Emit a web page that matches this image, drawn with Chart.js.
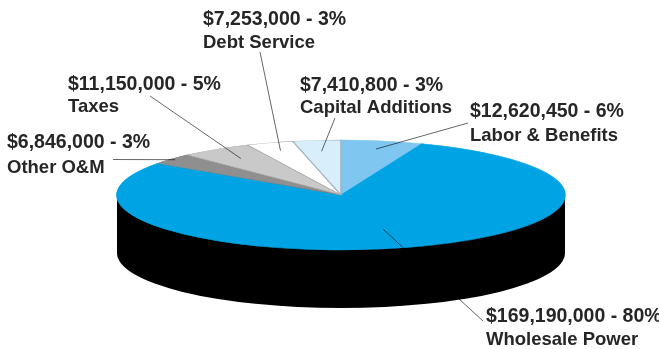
<!DOCTYPE html>
<html>
<head>
<meta charset="utf-8">
<title>Budget</title>
<script src="https://cdn.jsdelivr.net/npm/chart.js@4"></script>
<style>
  html, body { margin: 0; padding: 0; background: #fff; }
  #wrap { width: 659px; height: 349px; }
</style>
</head>
<body>
<div id="wrap"><canvas id="myChart"></canvas></div>
<script>
const categories = ['Labor & Benefits', 'Wholesale Power', 'Other O&M', 'Taxes', 'Debt Service', 'Capital Additions'];
const amounts = [12620450, 169190000, 6846000, 11150000, 7253000, 7410800];
const percents = [6, 80, 3, 5, 3, 3];

const sliceColors = ['#7fc6f1', '#00a4e4', '#8f8f8f', '#c9c9c9', '#ffffff', '#d9eefb'];
const sliceBorders = ['#7fc6f1', '#00a4e4', '#777777', '#a8a8a8', '#a0a0a0', '#a0b4c0'];

// label text [x, first baseline, line gap], then how far along the slice radius the leader ends
const labelAnchors = [[470, 117, 24], [486, 322, 23], [7, 148, 25], [68, 90, 22], [203, 25, 23], [300, 91, 22]];
const leaderStarts = [[468, 123], [483, 321], [113, 159.5], [150, 96], [260, 52], [335, 118]];
const leaderReach = [0.85, 0.65, 0.98, 0.8, 0.85, 0.8];

const squash = 0.2455;
const rimDepth = 58;

const money = v => '$' + v.toLocaleString('en-US');

// flattens the pie into an ellipse and puts the black rim under it
const tiltPlugin = {
    id: 'tilt',
    beforeDatasetsDraw(chart) {
        const ctx = chart.ctx;
        const arc = chart.getDatasetMeta(0).data[0];
        const rx = arc.outerRadius;
        const ry = rx * squash;
        ctx.save();
        ctx.fillStyle = '#000';
        ctx.beginPath();
        ctx.ellipse(arc.x, arc.y + rimDepth, rx, ry, 0, 0, Math.PI);
        ctx.lineTo(arc.x - rx, arc.y);
        ctx.lineTo(arc.x + rx, arc.y);
        ctx.closePath();
        ctx.fill();
        ctx.restore();

        ctx.save();
        ctx.translate(0, arc.y);
        ctx.scale(1, squash);
        ctx.translate(0, -arc.y);
    },
    afterDatasetsDraw(chart) {
        chart.ctx.restore();
    }
};

// leader lines and the two-line text labels
const calloutPlugin = {
    id: 'callouts',
    afterDraw(chart) {
        const ctx = chart.ctx;
        const arcs = chart.getDatasetMeta(0).data;
        arcs.forEach((arc, i) => {
            const mid = (arc.startAngle + arc.endAngle) / 2;
            const r = arc.outerRadius * leaderReach[i];
            ctx.save();
            // multiply so the line darkens the blue and vanishes on the black rim
            ctx.globalCompositeOperation = 'multiply';
            ctx.strokeStyle = '#666';
            ctx.lineWidth = 1;
            ctx.beginPath();
            ctx.moveTo(leaderStarts[i][0], leaderStarts[i][1]);
            ctx.lineTo(arc.x + Math.cos(mid) * r, arc.y + Math.sin(mid) * r * squash);
            ctx.stroke();
            ctx.restore();

            const [x, y, gap] = labelAnchors[i];
            ctx.save();
            ctx.fillStyle = '#262626';
            ctx.textBaseline = 'alphabetic';
            ctx.font = 'bold 19.5px "Liberation Sans"';
            ctx.fillText(money(amounts[i]) + ' - ' + percents[i] + '%', x, y);
            ctx.font = 'bold 18.5px "Liberation Sans"';
            ctx.fillText(categories[i], x, y + gap);
            ctx.restore();
        });
    }
};

new Chart(document.getElementById('myChart'), {
    type: 'pie',
    data: {
        labels: categories,
        datasets: [{
            data: amounts,
            backgroundColor: sliceColors,
            borderColor: sliceBorders,
            borderWidth: 1.5,
            clip: false
        }]
    },
    options: {
        responsive: true,
        maintainAspectRatio: false,
        animation: false,
        radius: 224,
        layout: { padding: { left: 23, top: 41 } },
        plugins: { legend: { display: false }, tooltip: { enabled: false } }
    },
    plugins: [tiltPlugin, calloutPlugin]
});
</script>
</body>
</html>
